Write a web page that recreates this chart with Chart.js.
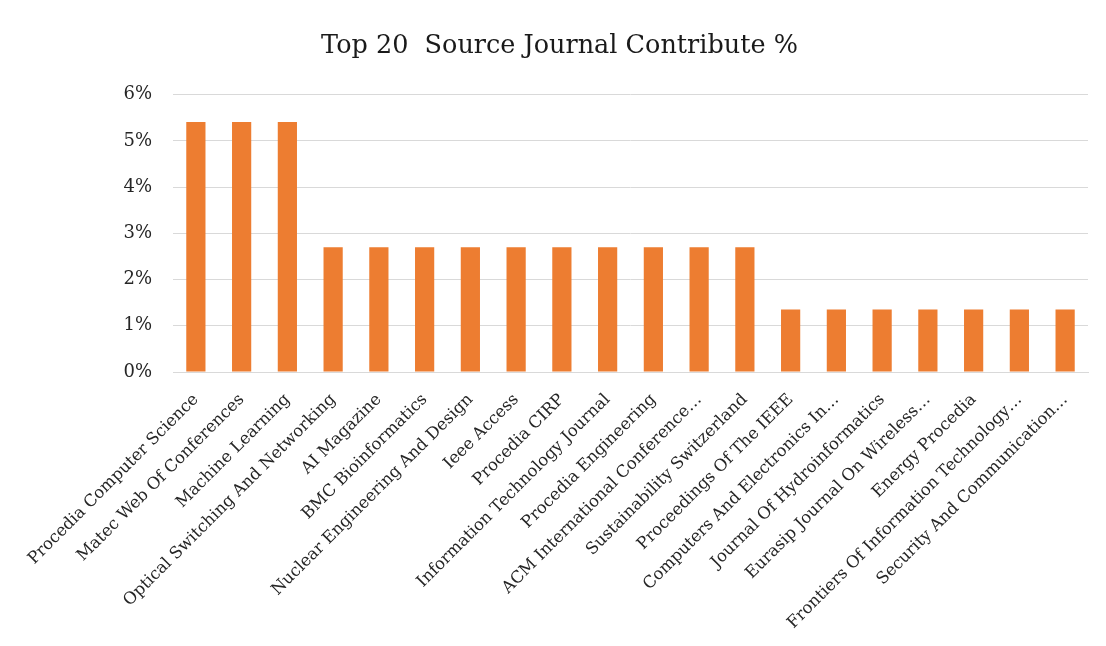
<!DOCTYPE html>
<html>
<head>
<meta charset="utf-8">
<script src="https://cdn.jsdelivr.net/npm/chart.js@4"></script>
<style>
  html, body { margin: 0; padding: 0; background: #fff; }
  #wrap { width: 1106px; height: 646px; }
</style>
</head>
<body>
<div id="wrap"><canvas id="c" width="1106" height="646"></canvas></div>
<script>
const categories = [
  "Procedia Computer Science",
  "Matec Web Of Conferences",
  "Machine Learning",
  "Optical Switching And Networking",
  "AI Magazine",
  "BMC Bioinformatics",
  "Nuclear Engineering And Design",
  "Ieee Access",
  "Procedia CIRP",
  "Information Technology Journal",
  "Procedia Engineering",
  "ACM International Conference…",
  "Sustainability Switzerland",
  "Proceedings Of The IEEE",
  "Computers And Electronics In…",
  "Journal Of Hydroinformatics",
  "Eurasip Journal On Wireless…",
  "Energy Procedia",
  "Frontiers Of Information Technology…",
  "Security And Communication…"
];
const contributePct = [5.41, 5.41, 5.41, 2.70, 2.70, 2.70, 2.70, 2.70, 2.70, 2.70, 2.70, 2.70, 2.70, 1.35, 1.35, 1.35, 1.35, 1.35, 1.35, 1.35];
const yTicks = [0, 1, 2, 3, 4, 5, 6];
const titleText = "Top 20  Source Journal Contribute %";

const SERIF = "'DejaVu Serif', 'Liberation Serif', serif";

new Chart(document.getElementById('c'), {
  type: 'bar',
  data: {
    labels: categories,
    datasets: [{
      data: contributePct,
      backgroundColor: '#ED7D31',
      borderWidth: 0,
      categoryPercentage: 1.0,
      barPercentage: 0.42
    }]
  },
  options: {
    responsive: false,
    animation: false,
    devicePixelRatio: 1,
    layout: { padding: { left: 31, right: 18, top: 0, bottom: 0 } },
    plugins: {
      legend: { display: false },
      tooltip: { enabled: false },
      title: {
        display: true,
        text: titleText,
        color: '#1a1a1a',
        font: { family: SERIF, size: 25.5, weight: 'normal' },
        padding: { top: 31, bottom: 33 }
      }
    },
    scales: {
      x: {
        grid: { display: false, drawBorder: false },
        border: { display: true, color: '#d9d9d9', width: 1 },
        ticks: {
          color: '#262626',
          font: { family: SERIF, size: 16.5 },
          maxRotation: 45,
          minRotation: 45,
          autoSkip: false,
          padding: 10
        },
        afterFit: (s) => { s.height = 274; }
      },
      y: {
        min: 0,
        max: 6,
        afterBuildTicks: (s) => { s.ticks = yTicks.map(v => ({ value: v })); },
        grid: { color: '#d9d9d9', lineWidth: 1, drawTicks: false },
        border: { display: false },
        ticks: {
          color: '#262626',
          font: { family: SERIF, size: 18 },
          padding: 21,
          callback: (v) => v + '%'
        },
        afterFit: (s) => { s.width = 142; }
      }
    }
  }
});
</script>
</body>
</html>
